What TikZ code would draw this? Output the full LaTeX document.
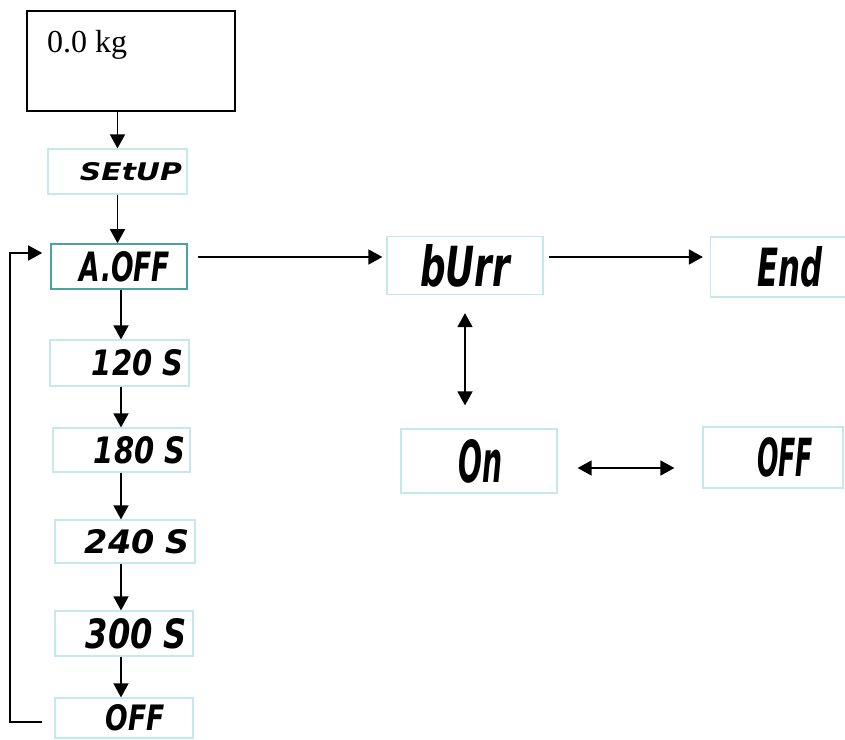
\documentclass[tikz,border=0pt]{standalone}
\usepackage{fontspec}
\usepackage{graphicx}
\setmainfont{Liberation Serif}
\newfontfamily\lcdfont{DejaVu Sans}
\usepackage{tikz}
\usetikzlibrary{arrows.meta,calc,positioning}
\definecolor{lcdedge}{RGB}{196,232,236}
\definecolor{lcdsel}{RGB}{72,162,166}
\tikzstyle{dispbox}=[draw, line width=1.4pt, rectangle, minimum width=208pt, minimum height=100pt]
\tikzstyle{lcd}=[draw=lcdedge, line width=1.2pt, rectangle, inner ysep=0pt, align=right]
\tikzstyle{arr}=[-{Triangle[length=14pt,width=15pt]}, line width=1.5pt]
\tikzstyle{dbl}=[{Triangle[length=14pt,width=15pt]}-{Triangle[length=14pt,width=15pt]}, line width=1.5pt]
% segment-style readout text, fitted to width and height
\newcommand{\lcdtxt}[3]{\resizebox{#1}{#2}{\lcdfont\bfseries\itshape #3}}

\begin{document}
\begin{tikzpicture}[x=1pt, y=-1pt]
    \useasboundingbox (0,0) rectangle (845,739);
    % weight display
    \node[dispbox] (disp) at (131,61) {};
    \node[anchor=base west, inner sep=0pt, font=\fontsize{32}{36}\selectfont] (kg) at (47,52) {0.0 kg};

    % left column: menu and timeout values
    \node[lcd, minimum height=45pt, text width=129pt, inner xsep=5pt] (setup) at (117.5,171.5) {\lcdtxt{102pt}{18pt}{SEtUP}};
    \node[lcd, draw=lcdsel, line width=1.6pt, minimum height=45pt, text width=102pt, inner xsep=17pt] (aoff) at (119,266.5) {\lcdtxt{90pt}{30pt}{A.OFF}};
    \node[lcd, minimum height=46pt, text width=127pt, inner xsep=6pt] (s120) at (119.5,363) {\lcdtxt{91pt}{26pt}{120 S}};
    \node[lcd, minimum height=44pt, text width=127pt, inner xsep=5pt] (s180) at (121.5,450) {\lcdtxt{91pt}{27pt}{180 S}};
    \node[lcd, minimum height=43pt, text width=130pt, inner xsep=5pt] (s240) at (125,541.5) {\lcdtxt{105pt}{24pt}{240 S}};
    \node[lcd, minimum height=45pt, text width=126pt, inner xsep=6pt] (s300) at (124,633.5) {\lcdtxt{101pt}{30pt}{300 S}};
    \node[lcd, minimum height=40pt, text width=82pt, inner xsep=28pt] (offl) at (124,718) {\lcdtxt{59pt}{26pt}{OFF}};

    % right part: buzzer setting
    \node[lcd, minimum height=58pt, text width=90pt, inner xsep=33pt] (burr) at (465,265.5) {\lcdtxt{90pt}{42pt}{bUrr}};
    \node[lcd, minimum height=60pt, text width=89pt, inner xsep=23pt] (endb) at (778,267) {\lcdtxt{65pt}{40pt}{End}};
    \node[lcd, minimum height=64pt, text width=48pt, inner xsep=54pt] (onb) at (479,461) {\lcdtxt{44pt}{43pt}{On}};
    \node[lcd, minimum height=61pt, text width=80pt, inner xsep=30pt] (offr) at (773,457.5) {\lcdtxt{56pt}{39pt}{OFF}};

    \coordinate (col) at (121,0);
    \coordinate (toprow) at (0,257);
    \coordinate (midrow) at (0,468);
    \coordinate (looprow) at (0,253);
    \coordinate (botrow) at (0,722);
    \coordinate (loopx) at (10,0);

    \draw[arr] (setup.north |- disp.south) -- (setup.north);
    \draw[arr] (setup.south) -- (setup.south |- aoff.north);
    \draw[arr] (aoff.south -| col) -- (s120.north -| col);
    \draw[arr] (s120.south -| col) -- (s180.north -| col);
    \draw[arr] (s180.south -| col) -- (s240.north -| col);
    \draw[arr] (s240.south -| col) -- (s300.north -| col);
    \draw[arr] (s300.south -| col) -- (offl.north -| col);

    % back to the top of the list
    \draw[arr, shorten <=12pt, shorten >=8pt] (offl.west |- botrow) -| (loopx |- looprow) -- (aoff.west |- looprow);

    \draw[arr, shorten <=10pt, shorten >=4pt] (aoff.east |- toprow) -- (burr.west |- toprow);
    \draw[arr, shorten <=5pt, shorten >=7pt] (burr.east |- toprow) -- (endb.west |- toprow);
    \draw[dbl, shorten <=18pt, shorten >=23pt] (burr.south) -- (burr.south |- onb.north);
    \draw[dbl, shorten <=20pt, shorten >=28pt] (onb.east |- midrow) -- (offr.west |- midrow);
\end{tikzpicture}
\end{document}
